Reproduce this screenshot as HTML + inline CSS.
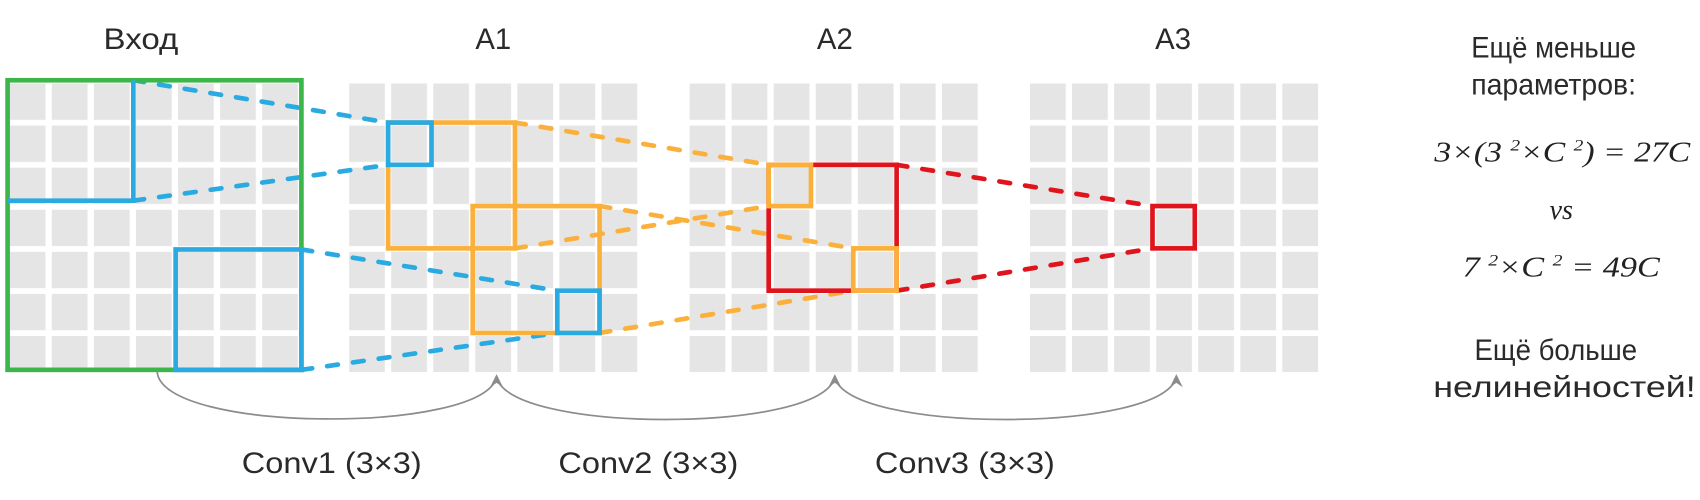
<!DOCTYPE html>
<html><head><meta charset="utf-8"><style>html,body{margin:0;padding:0;background:#fff;}svg{display:block}</style></head>
<body>
<svg width="1700" height="500" viewBox="0 0 1568 461" preserveAspectRatio="none" xmlns="http://www.w3.org/2000/svg">
<defs>
<pattern id="g" x="0" y="0" width="38.8" height="38.8" patternUnits="userSpaceOnUse">
<rect x="0" y="0" width="33" height="33.5" fill="#e5e5e5"/>
</pattern>
</defs>
<g transform="translate(9,77)"><rect width="266" height="266" fill="url(#g)"/></g>
<g transform="translate(322,77)"><rect width="266" height="266" fill="url(#g)"/></g>
<g transform="translate(636,77)"><rect width="266" height="266" fill="url(#g)"/></g>
<g transform="translate(950,77)"><rect width="266" height="266" fill="url(#g)"/></g>

<g fill="none" stroke-width="4.3" stroke-linecap="round" stroke-dasharray="10 14">
<path d="M123,74 L358,113 M123,185 L358,152 M278,230 L514,268 M278,341 L514,307" stroke="#29abe2"/>
<path d="M475,113 L709,152 M475,229 L709,190 M553,190 L787,229 M553,307 L787,268" stroke="#fbb03b"/>
<path d="M827,152 L1063,190 M827,268 L1063,229" stroke="#e0141c"/>
</g>

<g fill="none" stroke-width="4.3">
<rect x="7" y="74" width="271" height="267" stroke="#3cb54a"/>
<path d="M7,185 L123,185 L123,74" stroke="#29abe2"/>
<rect x="162" y="230" width="116" height="111" stroke="#29abe2"/>
<rect x="358" y="113" width="117" height="116" stroke="#fbb03b"/>
<rect x="436" y="190" width="117" height="117" stroke="#fbb03b"/>
<rect x="358" y="113" width="40" height="39" stroke="#29abe2"/>
<rect x="514" y="268" width="39" height="39" stroke="#29abe2"/>
<rect x="709" y="152" width="118" height="116" stroke="#e0141c"/>
<rect x="709" y="152" width="39" height="38" stroke="#fbb03b"/>
<rect x="787" y="229" width="40" height="39" stroke="#fbb03b"/>
<rect x="1063" y="190" width="39" height="39" stroke="#e0141c"/>
</g>

<g fill="none" stroke="#8c8c8c" stroke-width="1.6">
<path d="M145,343 C150,400 450,400 458,347"/>
<path d="M458,347 C466,400 762,400 770,347"/>
<path d="M770,347 C778,400 1076,400 1085,347"/>
</g>
<g fill="#8c8c8c">
<path d="M458,345 L452,357 L458,353 L464,357 Z"/>
<path d="M770,345 L764,357 L770,353 L776,357 Z"/>
<path d="M1085,345 L1079,357 L1085,353 L1091,357 Z"/>
</g>

<g font-family="Liberation Sans, sans-serif" font-size="27" fill="#2a2a2a" text-anchor="middle">
<text x="130" y="45" textLength="69" lengthAdjust="spacingAndGlyphs">Вход</text>
<text x="455" y="45">A1</text>
<text x="770" y="45">A2</text>
<text x="1082" y="45">A3</text>
<text x="306" y="436" textLength="166" lengthAdjust="spacingAndGlyphs">Conv1 (3×3)</text>
<text x="598" y="436" textLength="166" lengthAdjust="spacingAndGlyphs">Conv2 (3×3)</text>
<text x="890" y="436" textLength="166" lengthAdjust="spacingAndGlyphs">Conv3 (3×3)</text>
<text x="1433" y="53" textLength="152" lengthAdjust="spacingAndGlyphs">Ещё меньше</text>
<text x="1433" y="87" textLength="152" lengthAdjust="spacingAndGlyphs">параметров:</text>
<text x="1435" y="332" textLength="150" lengthAdjust="spacingAndGlyphs">Ещё больше</text>
<text x="1443" y="366" textLength="242" lengthAdjust="spacingAndGlyphs">нелинейностей!</text>
</g>
<g font-family="Liberation Serif, serif" font-style="italic" font-size="26" fill="#222" text-anchor="middle">
<text x="1441" y="149" textLength="236" lengthAdjust="spacingAndGlyphs">3×(3 <tspan font-size="15" dy="-10">2</tspan><tspan dy="10">×C </tspan><tspan font-size="15" dy="-10">2</tspan><tspan dy="10">) = 27C</tspan></text>
<text x="1440" y="202">vs</text>
<text x="1440" y="255" textLength="182" lengthAdjust="spacingAndGlyphs">7 <tspan font-size="15" dy="-10">2</tspan><tspan dy="10">×C </tspan><tspan font-size="15" dy="-10">2</tspan><tspan dy="10"> = 49C</tspan></text>
</g>
</svg>
</body></html>
